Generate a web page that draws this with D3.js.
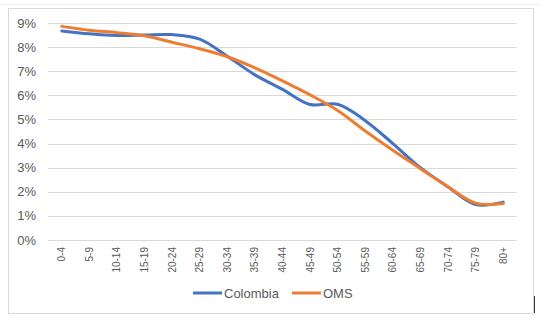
<!DOCTYPE html>
<html lang="es">
<head>
  <meta charset="UTF-8">
  <title>Colombia vs OMS</title>
  <style>
    body { margin: 0; background: #fff; }
    text { font-family: "Liberation Sans", Arial, sans-serif; fill: #595959; }
  </style>
</head>
<body>
  <svg id="svg" width="550" height="323"></svg>

  <script src="https://d3js.org/d3.v7.min.js"></script>
  <script>
    const categories = ['0-4', '5-9', '10-14', '15-19', '20-24', '25-29', '30-34', '35-39', '40-44',
      '45-49', '50-54', '55-59', '60-64', '65-69', '70-74', '75-79', '80+']
    const colombia = [8.67, 8.55, 8.48, 8.5, 8.52, 8.33, 7.62, 6.85, 6.25, 5.62, 5.63, 4.95, 4.0, 3.0, 2.2, 1.47, 1.57]
    const oms = [8.86, 8.7, 8.6, 8.47, 8.2, 7.93, 7.6, 7.14, 6.6, 6.02, 5.37, 4.52, 3.72, 2.96, 2.21, 1.53, 1.51]
    const yTicks = [0, 1, 2, 3, 4, 5, 6, 7, 8, 9]
    const seriesNames = ['Colombia', 'OMS']
    const seriesColors = ['#4472C4', '#ED7D31']

    const svg = d3.select('#svg')

    // outer frame and page artifacts
    svg.append('line')
      .attr('x1', 0).attr('x2', 540).attr('y1', 4.5).attr('y2', 4.5)
      .attr('stroke', '#eeeeee')
    svg.append('rect')
      .attr('x', 8.5).attr('y', 8.5).attr('width', 525).attr('height', 305)
      .attr('fill', 'none').attr('stroke', '#d9d9d9')
    svg.append('line')
      .attr('x1', 534.5).attr('x2', 534.5).attr('y1', 296).attr('y2', 313)
      .attr('stroke', '#333')

    const xScale = d3.scaleBand()
      .domain(categories)
      .range([48, 517])
    const yScale = d3.scaleLinear()
      .domain([0, 9])
      .range([240, 23])

    // gridlines
    svg.append('g')
      .selectAll('line')
      .data(yTicks)
      .enter()
      .append('line')
      .attr('x1', 48).attr('x2', 517)
      .attr('y1', d => Math.round(yScale(d)) + 0.5)
      .attr('y2', d => Math.round(yScale(d)) + 0.5)
      .attr('stroke', '#d9d9d9')

    // y labels
    svg.append('g')
      .selectAll('text')
      .data(yTicks)
      .enter()
      .append('text')
      .text(d => d + '%')
      .attr('x', 36)
      .attr('y', d => yScale(d) + 4.5)
      .attr('text-anchor', 'end')
      .style('font-size', '13px')

    // x labels, rotated
    svg.append('g')
      .selectAll('text')
      .data(categories)
      .enter()
      .append('text')
      .text(d => d)
      .attr('transform', d => `translate(${xScale(d) + xScale.bandwidth() / 2 + 3.5},247) rotate(-90)`)
      .attr('text-anchor', 'end')
      .style('font-size', '10px')

    const line = d3.line()
      .x((d, i) => xScale(categories[i]) + xScale.bandwidth() / 2)
      .y(d => yScale(d))
      .curve(d3.curveCatmullRom.alpha(0.5))

    const seriesData = [colombia, oms]
    svg.append('g')
      .selectAll('path')
      .data(seriesData)
      .enter()
      .append('path')
      .attr('d', d => line(d))
      .attr('fill', 'none')
      .attr('stroke', (d, i) => seriesColors[i])
      .attr('stroke-width', 3)
      .attr('stroke-linecap', 'round')

    // legend
    const legendX = [193, 292]
    const legend = svg.append('g')
      .selectAll('g')
      .data(seriesNames)
      .enter()
      .append('g')
      .attr('transform', (d, i) => `translate(${legendX[i]},293)`)
    legend.append('line')
      .attr('x1', 0).attr('x2', 29)
      .attr('stroke', (d, i) => seriesColors[i])
      .attr('stroke-width', 3)
    legend.append('text')
      .text(d => d)
      .attr('x', 31)
      .attr('y', 4.5)
      .style('font-size', '13px')
  </script>
</body>
</html>
